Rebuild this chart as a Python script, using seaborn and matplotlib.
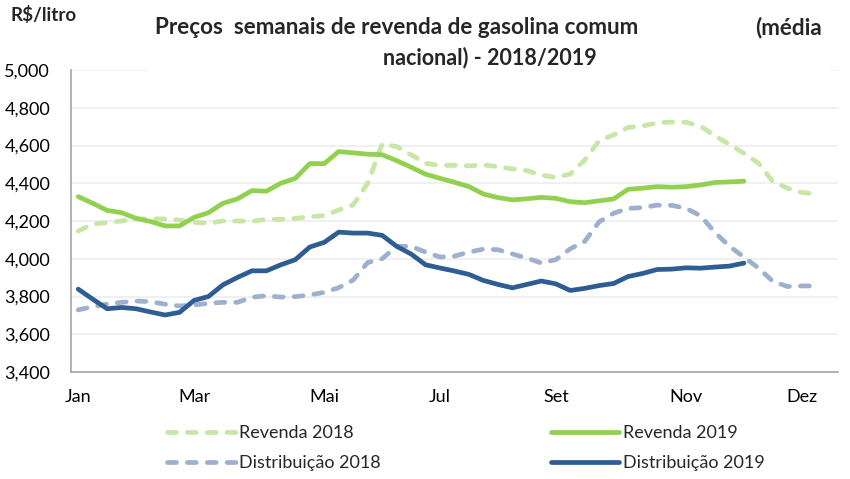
import matplotlib
matplotlib.use("Agg")
import matplotlib.pyplot as plt
import matplotlib.patches as mpatches
import seaborn as sns
import numpy as np
import pandas as pd


# ─────────────────────────────────────────────
# Data: weekly prices (R$/litro), national average
# ─────────────────────────────────────────────
revenda_2018 = [
    4147, 4184, 4191, 4200, 4211, 4211, 4211, 4205, 4193, 4188,
    4200, 4200, 4198, 4209, 4209, 4214, 4223, 4228, 4258, 4285,
    4400, 4608, 4594, 4551, 4506, 4494, 4495, 4492, 4497, 4488,
    4476, 4467, 4444, 4430, 4449, 4523, 4626, 4656, 4696, 4703,
    4721, 4724, 4723, 4703, 4651, 4606, 4559, 4506, 4409, 4374,
    4351, 4343,
]
revenda_2019 = [
    4329, 4294, 4256, 4244, 4214, 4197, 4174, 4174, 4219, 4244,
    4294, 4317, 4361, 4358, 4400, 4426, 4504, 4504, 4568, 4561,
    4554, 4551, 4520, 4485, 4448, 4426, 4405, 4382, 4343, 4324,
    4312, 4318, 4325, 4320, 4302, 4297, 4307, 4317, 4368, 4374,
    4382, 4379, 4382, 4391, 4404, 4407, 4411,
]
distribuicao_2018 = [
    3729, 3746, 3760, 3769, 3776, 3773, 3759, 3750, 3755, 3764,
    3769, 3769, 3796, 3804, 3797, 3799, 3808, 3822, 3847, 3887,
    3980, 4000, 4066, 4066, 4035, 4009, 4014, 4035, 4051, 4048,
    4025, 4004, 3977, 3995, 4053, 4092, 4196, 4241, 4267, 4271,
    4284, 4283, 4267, 4228, 4139, 4066, 4009, 3951, 3880, 3853,
    3856, 3856,
]
distribuicao_2019 = [
    3839, 3786, 3735, 3742, 3735, 3718, 3702, 3716, 3779, 3800,
    3862, 3901, 3936, 3936, 3968, 3995, 4062, 4087, 4141, 4136,
    4136, 4124, 4066, 4025, 3968, 3951, 3935, 3917, 3885, 3864,
    3846, 3864, 3882, 3867, 3832, 3843, 3858, 3869, 3906, 3922,
    3943, 3945, 3952, 3950, 3956, 3961, 3977,
]

n_weeks = 53
month_labels = ["Jan", "Mar", "Mai", "Jul", "Set", "Nov", "Dez"]
month_weeks = [0, 8, 17, 25, 33, 42, 50]
y_ticks = [3400, 3600, 3800, 4000, 4200, 4400, 4600, 4800, 5000]

series = [
    ("Revenda 2018", revenda_2018, "#C8E6A6", True),
    ("Distribuição 2018", distribuicao_2018, "#9DB1CE", True),
    ("Revenda 2019", revenda_2019, "#92D050", False),
    ("Distribuição 2019", distribuicao_2019, "#2E5D93", False),
]

# ── Style ────────────────────────────────────────────────────────────────
sns.set_style("white")
plt.rcParams["font.family"] = ["Lato", "DejaVu Sans"]

fig = plt.figure(figsize=(8.5, 4.79), dpi=100)
fig.patch.set_facecolor("white")
ax = fig.add_axes([71 / 850, 1 - 372 / 479, (838 - 71) / 850, (372 - 70) / 479])

handles = []
for name, values, color, dashed in series:
    df = pd.DataFrame({"week": np.arange(len(values)), "price": values})
    sns.lineplot(data=df, x="week", y="price", ax=ax, color=color,
                 linewidth=3.4, zorder=3)
    line = ax.lines[-1]
    line.set_solid_capstyle("round")
    if dashed:
        line.set_dashes((1.9, 2.3))
        line.set_dash_capstyle("round")
    handles.append(line)

# ── Axes formatting ─────────────────────────────────────────────────────
ax.set_xlim(-0.5, n_weeks - 0.5)
ax.set_ylim(3400, 5000)
ax.set_yticks(y_ticks)
ax.set_yticklabels([f"{v:,}" for v in y_ticks], fontsize=13)
ax.set_xticks(month_weeks)
ax.set_xticklabels(month_labels, fontsize=13)
ax.set_xticks(np.arange(-0.5, n_weeks, 1), minor=True)
ax.tick_params(axis="x", which="major", length=0, pad=12, colors="#000000")
ax.tick_params(axis="x", which="minor", length=5, width=1, color="#A6A6A6",
               direction="out")
ax.tick_params(axis="y", length=5, width=1, color="#A6A6A6", direction="out",
               pad=10, colors="#000000")
ax.tick_params(axis="y", color="#A6A6A6")
ax.set_xlabel("")
ax.set_ylabel("")

ax.grid(axis="y", color="#EDEDED", linewidth=1.2)
ax.grid(axis="x", visible=False)
ax.set_axisbelow(True)
for side in ["top", "right"]:
    ax.spines[side].set_visible(False)
for side in ["left", "bottom"]:
    ax.spines[side].set_color("#A6A6A6")
    ax.spines[side].set_linewidth(1.2)

# ── Title block (white box hides the top gridline like the original) ─────
fig.add_artist(mpatches.Rectangle((147 / 850, 1 - 71.5 / 479), (830 - 147) / 850,
                                  71.5 / 479, transform=fig.transFigure,
                                  facecolor="white", edgecolor="none", zorder=1))
fig.text(155 / 850, 1 - 28 / 479, "Preços  semanais de revenda de gasolina comum",
         ha="left", va="center", fontsize=16.2, fontweight="bold", zorder=5)
fig.text(822 / 850, 1 - 28 / 479, "(média", ha="right", va="center",
         fontsize=16.2, fontweight="bold", zorder=5)
fig.text(490 / 850, 1 - 58 / 479, "nacional) - 2018/2019", ha="center",
         va="center", fontsize=15.5, fontweight="bold", zorder=5)
fig.text(10 / 850, 1 - 15 / 479, "R$/litro", ha="left", va="center",
         fontsize=13.5, fontweight="bold", zorder=5)

# ── Legend ──────────────────────────────────────────────────────────────
ax.legend(handles, [s[0] for s in series], ncol=2, loc="upper left",
          bbox_to_anchor=(151 / 850, 1 - 409 / 479),
          bbox_transform=fig.transFigure, frameon=False, fontsize=13,
          handlelength=3.8, handletextpad=0.2, columnspacing=9.4,
          labelspacing=0.78)

fig.savefig("out.png", dpi=100)
